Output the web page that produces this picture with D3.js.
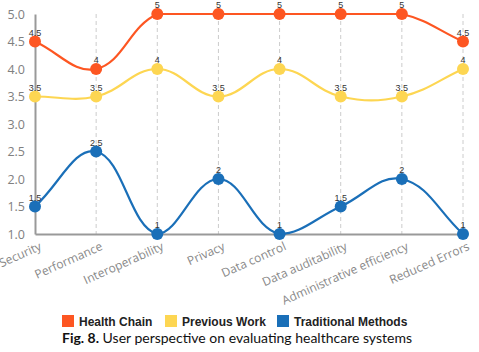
<!DOCTYPE html>
<html><head><meta charset="utf-8">
<script src="https://cdn.jsdelivr.net/npm/d3@7"></script>
<style>body{margin:0;background:#fff;} svg{display:block;}</style>
</head><body>
<svg id="chart" width="479" height="352"></svg>
<script>
const categories = ["Security","Performance","Interoperability","Privacy","Data control","Data auditability","Administrative efficiency","Reduced Errors"];
const healthChain = [4.5,4,5,5,5,5,5,4.5];
const previousWork = [3.5,3.5,4,3.5,4,3.5,3.5,4];
const traditional = [1.5,2.5,1,2,1,1.5,2,1];
const yTicks = [1.0,1.5,2.0,2.5,3.0,3.5,4.0,4.5,5.0];
const seriesNames = ["Health Chain","Previous Work","Traditional Methods"];
const seriesColors = ["#fd5622","#fdd652","#1a6fb8"];
const seriesData = [healthChain, previousWork, traditional];

const svg = d3.select("#chart");
const x = d3.scalePoint().domain(categories).range([35,463]);
const y = d3.scaleLinear().domain([1,5]).range([234,14]);

// dashed vertical grid
svg.append("g").selectAll("line").data(categories.slice(1)).join("line")
  .attr("x1",d=>x(d)).attr("x2",d=>x(d)).attr("y1",14).attr("y2",234)
  .attr("stroke","#ccc").attr("stroke-dasharray","4,3").attr("stroke-width",1);

// y axis
const yAxis = svg.append("g").attr("transform","translate(35,0)")
  .call(d3.axisLeft(y).tickValues(yTicks).tickFormat(d3.format(".1f")).tickSize(0).tickPadding(10));
yAxis.select(".domain").attr("stroke","#999").attr("stroke-width",2);
yAxis.selectAll("text").attr("fill","#808080").style("font-family","Open Sans").style("font-size","12.5px");

// x axis
const xAxis = svg.append("g").attr("transform","translate(0,234)")
  .call(d3.axisBottom(x).tickSize(0).tickPadding(6));
xAxis.select(".domain").attr("stroke","#999").attr("stroke-width",2);
xAxis.selectAll("text").attr("fill","#888").style("font-family","Open Sans").style("font-size","12px")
  .attr("text-anchor","end").attr("dy","0.9em")
  .attr("transform","rotate(-24)");

// spline with tension and control points capped to the plot area
function splinePath(data, t){
  const pts = data.map((d,i)=>({x:x(categories[i]), y:y(d)}));
  const [x0,x1] = x.range(); const [yb,yt] = y.range();
  const cap = (v,a,b)=>Math.max(Math.min(v,Math.max(a,b)),Math.min(a,b));
  const cps = pts.map((p,i)=>{
    const prev = pts[Math.max(i-1,0)], next = pts[Math.min(i+1,pts.length-1)];
    const d01 = Math.hypot(p.x-prev.x,p.y-prev.y), d12 = Math.hypot(next.x-p.x,next.y-p.y);
    const s01 = (d01+d12)? d01/(d01+d12):0, s12 = (d01+d12)? d12/(d01+d12):0;
    const fa=t*s01, fb=t*s12;
    return {
      px: cap(p.x - fa*(next.x-prev.x),x0,x1), py: cap(p.y - fa*(next.y-prev.y),yb,yt),
      nx: cap(p.x + fb*(next.x-prev.x),x0,x1), ny: cap(p.y + fb*(next.y-prev.y),yb,yt)
    };
  });
  const path = d3.path();
  path.moveTo(pts[0].x, pts[0].y);
  for(let i=1;i<pts.length;i++){
    path.bezierCurveTo(cps[i-1].nx, cps[i-1].ny, cps[i].px, cps[i].py, pts[i].x, pts[i].y);
  }
  return path.toString();
}

seriesData.forEach((data,si)=>{
  const g = svg.append("g");
  g.append("path").attr("d",splinePath(data,0.4)).attr("fill","none")
    .attr("stroke",seriesColors[si]).attr("stroke-width",2.2);
  g.selectAll("circle").data(data).join("circle")
    .attr("cx",(d,i)=>x(categories[i])).attr("cy",d=>y(d)).attr("r",6)
    .attr("fill",seriesColors[si]);
  g.selectAll("text").data(data).join("text")
    .attr("x",(d,i)=>x(categories[i])).attr("y",d=>y(d)-6)
    .attr("text-anchor","middle").attr("fill","#333")
    .style("font-family","Liberation Sans").style("font-size","9px")
    .text(d=>d3.format("")(d));
});

// legend
const legendX = [62,165,277];
const lg = svg.append("g");
seriesNames.forEach((n,i)=>{
  lg.append("rect").attr("x",legendX[i]).attr("y",315).attr("width",12).attr("height",12).attr("fill",seriesColors[i]);
  lg.append("text").attr("x",legendX[i]+17).attr("y",325.5).text(n)
    .attr("fill","#222").style("font-family","Liberation Sans").style("font-weight","bold").style("font-size","12px");
});

// caption
const cap = svg.append("text").attr("x",62).attr("y",343)
  .style("font-family","Lato").style("font-size","14px").attr("fill","#111");
cap.append("tspan").style("font-weight","bold").text("Fig. 8.");
cap.append("tspan").text(" User perspective on evaluating healthcare systems");
</script>
</body></html>
